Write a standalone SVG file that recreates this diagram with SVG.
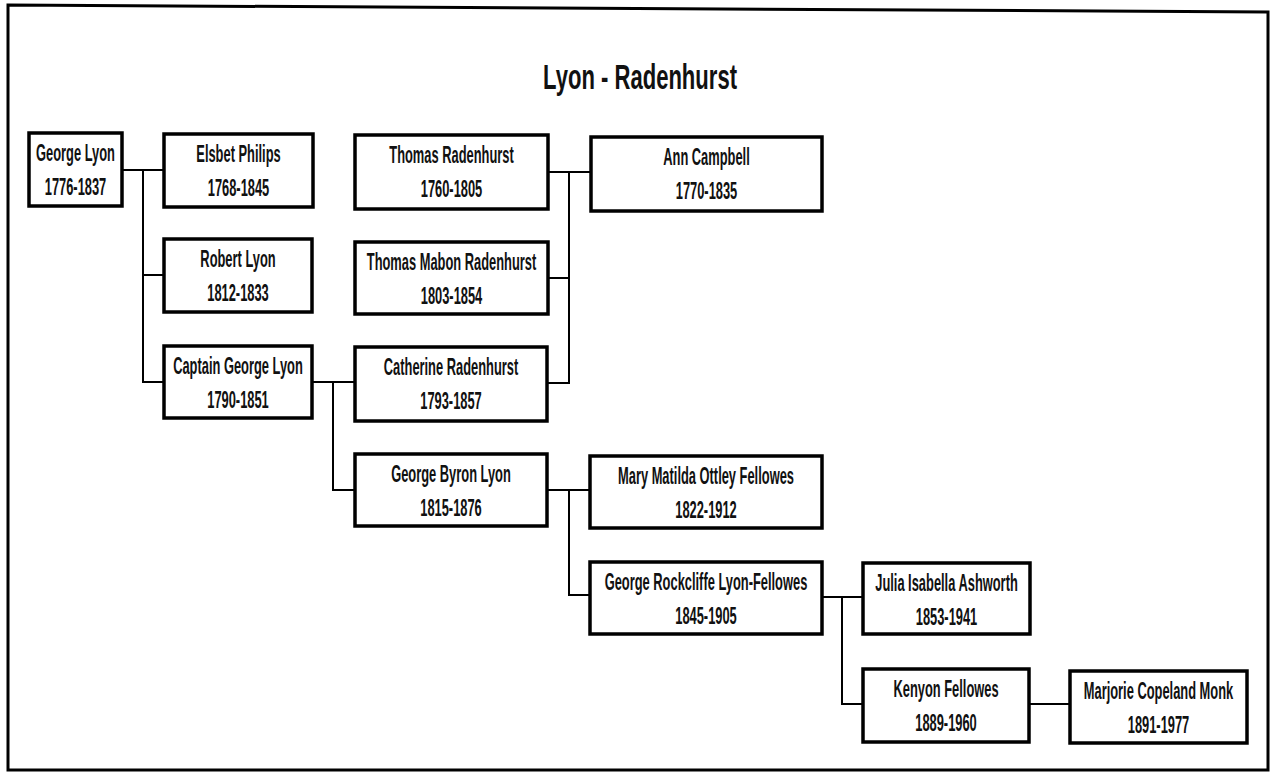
<svg xmlns="http://www.w3.org/2000/svg" width="1270" height="774" viewBox="0 0 1270 774">
<style>
.box{fill:#fff;stroke:#000;stroke-width:3.5}
.t{font-family:'Liberation Sans',Arial,sans-serif;font-weight:bold;font-size:23px;text-anchor:middle;fill:#111}
.title{font-family:'Liberation Sans',Arial,sans-serif;font-weight:bold;font-size:35px;text-anchor:middle;fill:#111}
.conn{fill:none;stroke:#000;stroke-width:2}
</style>
<rect x="0" y="0" width="1270" height="774" fill="#fff"/>
<path d="M8,5 L1268,12 L1268,770 L8,770 Z" fill="none" stroke="#000" stroke-width="3"/>
<text class="title" transform="translate(640,89) scale(0.63,1)">Lyon - Radenhurst</text>

<g id="connectors" class="conn">
<path d="M122,170 H164 M143,170 V382 H164 M143,275 H164"/>
<path d="M548,172 H591 M569,172 V383 H547 M569,278 H548"/>
<path d="M312,382 H355 M333,382 V490 H355"/>
<path d="M547,490 H590 M569,490 V595 H590"/>
<path d="M822,597 H863 M842,597 V704 H863"/>
<path d="M1029,704 H1070"/>
</g>

<g id="george-lyon"><rect class="box" x="29" y="133" width="93" height="73"/>
<text class="t" transform="translate(75.5,161) scale(0.56,1)">George Lyon</text>
<text class="t" transform="translate(75.5,195) scale(0.56,1)">1776-1837</text></g>

<g id="elsbet-philips"><rect class="box" x="164" y="134" width="149" height="73"/>
<text class="t" transform="translate(238.5,162) scale(0.56,1)">Elsbet Philips</text>
<text class="t" transform="translate(238.5,196) scale(0.56,1)">1768-1845</text></g>

<g id="robert-lyon"><rect class="box" x="164" y="239" width="148" height="73"/>
<text class="t" transform="translate(238,267) scale(0.56,1)">Robert Lyon</text>
<text class="t" transform="translate(238,301) scale(0.56,1)">1812-1833</text></g>

<g id="captain-george-lyon"><rect class="box" x="164" y="346" width="148" height="72"/>
<text class="t" transform="translate(238,374) scale(0.56,1)">Captain George Lyon</text>
<text class="t" transform="translate(238,408) scale(0.56,1)">1790-1851</text></g>

<g id="thomas-radenhurst"><rect class="box" x="355" y="135" width="193" height="74"/>
<text class="t" transform="translate(451.5,163) scale(0.56,1)">Thomas Radenhurst</text>
<text class="t" transform="translate(451.5,197) scale(0.56,1)">1760-1805</text></g>

<g id="ann-campbell"><rect class="box" x="591" y="137" width="231" height="74"/>
<text class="t" transform="translate(706.5,165) scale(0.56,1)">Ann Campbell</text>
<text class="t" transform="translate(706.5,199) scale(0.56,1)">1770-1835</text></g>

<g id="thomas-mabon-radenhurst"><rect class="box" x="355" y="242" width="193" height="72"/>
<text class="t" transform="translate(451.5,270) scale(0.56,1)">Thomas Mabon Radenhurst</text>
<text class="t" transform="translate(451.5,304) scale(0.56,1)">1803-1854</text></g>

<g id="catherine-radenhurst"><rect class="box" x="355" y="347" width="192" height="74"/>
<text class="t" transform="translate(451,375) scale(0.56,1)">Catherine Radenhurst</text>
<text class="t" transform="translate(451,409) scale(0.56,1)">1793-1857</text></g>

<g id="george-byron-lyon"><rect class="box" x="355" y="454" width="192" height="72"/>
<text class="t" transform="translate(451,482) scale(0.56,1)">George Byron Lyon</text>
<text class="t" transform="translate(451,516) scale(0.56,1)">1815-1876</text></g>

<g id="mary-matilda-ottley-fellowes"><rect class="box" x="590" y="456" width="232" height="72"/>
<text class="t" transform="translate(706,484) scale(0.56,1)">Mary Matilda Ottley Fellowes</text>
<text class="t" transform="translate(706,518) scale(0.56,1)">1822-1912</text></g>

<g id="george-rockcliffe-lyon-fellowes"><rect class="box" x="590" y="562" width="232" height="72"/>
<text class="t" transform="translate(706,590) scale(0.56,1)">George Rockcliffe Lyon-Fellowes</text>
<text class="t" transform="translate(706,624) scale(0.56,1)">1845-1905</text></g>

<g id="julia-isabella-ashworth"><rect class="box" x="863" y="563" width="167" height="71"/>
<text class="t" transform="translate(946.5,591) scale(0.56,1)">Julia Isabella Ashworth</text>
<text class="t" transform="translate(946.5,625) scale(0.56,1)">1853-1941</text></g>

<g id="kenyon-fellowes"><rect class="box" x="863" y="669" width="166" height="73"/>
<text class="t" transform="translate(946,697) scale(0.56,1)">Kenyon Fellowes</text>
<text class="t" transform="translate(946,731) scale(0.56,1)">1889-1960</text></g>

<g id="marjorie-copeland-monk"><rect class="box" x="1070" y="671" width="177" height="72"/>
<text class="t" transform="translate(1158.5,699) scale(0.56,1)">Marjorie Copeland Monk</text>
<text class="t" transform="translate(1158.5,733) scale(0.56,1)">1891-1977</text></g>
</svg>
